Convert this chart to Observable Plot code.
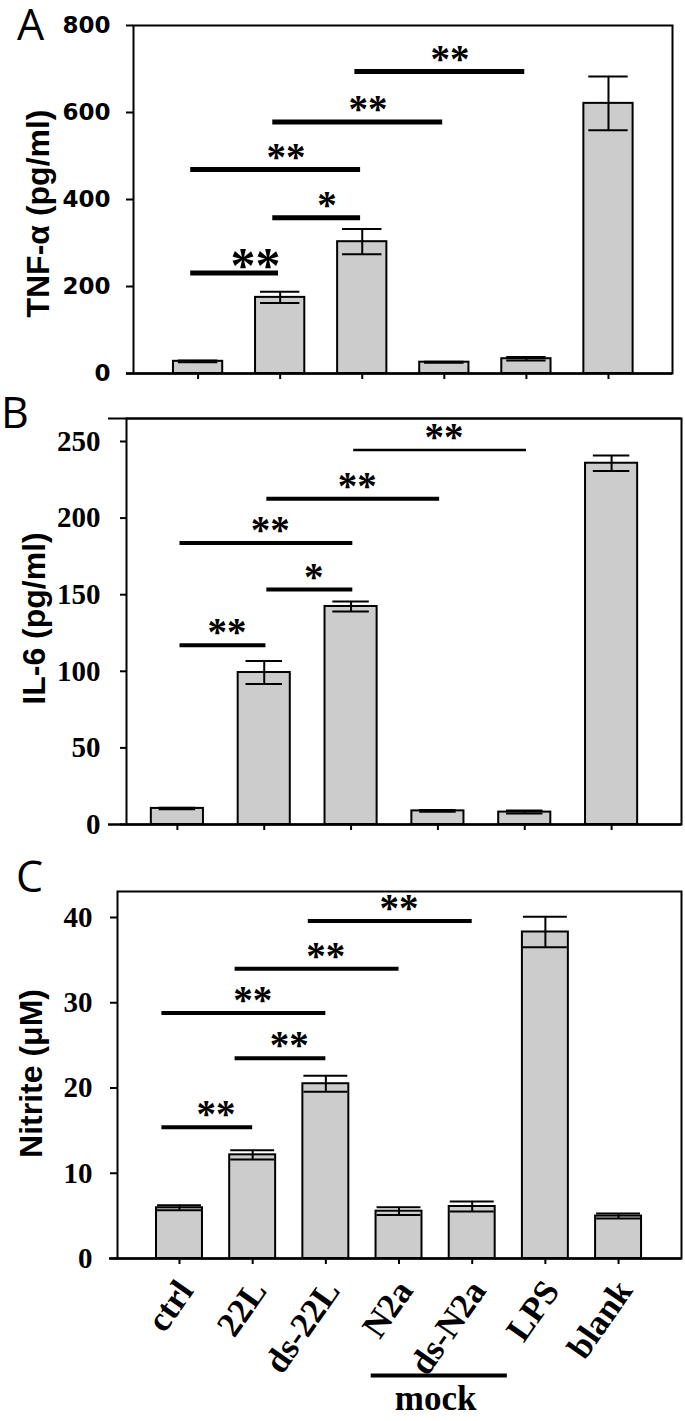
<!DOCTYPE html>
<html><head><meta charset="utf-8">
<script src="https://cdn.jsdelivr.net/npm/d3@7"></script>
<script src="https://cdn.jsdelivr.net/npm/@observablehq/plot@0.6"></script>
<style>
body{margin:0;background:#fff;}
#root{position:relative;width:685px;height:1421px;overflow:hidden;background:#fff;}
.panel{position:absolute;left:0;}
#letters{position:absolute;left:0;top:0;}
</style></head><body><div id="root"></div>
<script>
// ---- data ----
const catsAB = ["ctrl", "22L", "ds-22L", "N2a", "ds-N2a", "LPS"];
const catsC = ["ctrl", "22L", "ds-22L", "N2a", "ds-N2a", "LPS", "blank"];

const tnfMean = [28, 175, 303, 26, 34, 621];
const tnfErr = [2, 13, 29, 1, 4, 62];
const il6Mean = [10.5, 99.2, 142.3, 8.9, 8.1, 235.8];
const il6Err = [0.5, 7.5, 3.3, 0.6, 1, 5];
const nitMean = [5.95, 12.16, 20.5, 5.55, 6.1, 38.3, 4.98];
const nitErr = [0.3, 0.55, 0.95, 0.45, 0.6, 1.8, 0.3];

const tnfTicks = [0, 200, 400, 600, 800];
const il6Ticks = [0, 50, 100, 150, 200, 250];
const nitTicks = [0, 10, 20, 30, 40];

const sigPairs = [["ctrl", "22L"], ["22L", "ds-22L"], ["ctrl", "ds-22L"], ["22L", "N2a"], ["ds-22L", "ds-N2a"]];
const tnfSigY = [231, 358, 469, 578, 694];
const tnfSigLabel = ["**", "*", "**", "**", "**"];
const il6SigY = [117, 153.4, 183.7, 212.7, 244.5];
const il6SigLabel = ["**", "*", "**", "**", "**"];
const nitSigY = [15.4, 23.5, 28.8, 34.0, 39.6];
const nitSigLabel = ["**", "**", "**", "**", "**"];

const mockGroup = ["N2a", "ds-N2a"];
const mockLabel = "mock";

const titles = ["TNF-α (pg/ml)", "IL-6 (pg/ml)", "Nitrite (μM)"];
const panelLetters = ["A", "B", "C"];

// ---- drawing ----
const sans = "Liberation Sans, Arial, sans-serif";
const serif = "Liberation Serif, Times New Roman, serif";
const wideSans = "DejaVu Sans, sans-serif";

function panel(cfg) {
  const cats = cfg.cats;
  const idx = c => cats.indexOf(c);
  const bars = cats.map((c, i) => ({c, i, v: cfg.mean[i], e: cfg.err[i]}));
  const sig = sigPairs.map((p, k) => ({a: idx(p[0]), b: idx(p[1]), y: cfg.sigY[k], label: cfg.sigLabel[k], k}));
  const hw = cfg.barHalf, ch = cfg.capHalf;
  const marks = [
    Plot.rect(bars, {x1: d => d.i - hw, x2: d => d.i + hw, y1: 0, y2: "v", fill: "#cccccc", stroke: "black", strokeWidth: 2}),
    Plot.ruleX(bars, {x: "i", y1: d => d.v - d.e, y2: d => d.v + d.e, strokeWidth: 2}),
    Plot.ruleY(bars, {y: d => d.v + d.e, x1: d => d.i - ch, x2: d => d.i + ch, strokeWidth: 2}),
    Plot.ruleY(bars, {y: d => d.v - d.e, x1: d => d.i - ch, x2: d => d.i + ch, strokeWidth: 2}),
    Plot.ruleY(sig, {y: "y", x1: d => d.a + cfg.s0, x2: d => d.b + cfg.s1,
      strokeWidth: d => (cfg.thinLast && d.k === 4 ? 2.5 : cfg.sigW)}),
    Plot.text(sig.filter(d => !(cfg.bigFirst && d.k === 0)), {x: d => (d.a + d.b) / 2 + cfg.starShift, y: "y", text: "label",
      fontSize: 39, fontFamily: serif, fontWeight: "bold", lineAnchor: "middle", dy: -19 + 0.17 * 39}),
    Plot.frame({strokeWidth: 2}),
    Plot.ruleY([cfg.y[0]], {y: d => d, strokeWidth: 2.5, insetLeft: -cfg.extBottom}),
    Plot.axisY({ticks: cfg.ticks, tickSize: cfg.tickSize, tickPadding: cfg.tickPad, strokeWidth: 2,
      fontSize: cfg.yFont, fontFamily: cfg.yFamily, fontWeight: "bold", label: null, tickFormat: d => String(d)}),
    Plot.axisX({ticks: d3.range(cats.length), tickSize: 6, strokeWidth: 2, tickFormat: () => "", label: null}),
    Plot.text([cfg.title], {frameAnchor: "left", rotate: -90, textAnchor: "middle", lineAnchor: "middle",
      dx: cfg.titleX - cfg.ml, dy: cfg.titleDy, fontSize: 32, fontFamily: sans, fontWeight: "bold"})
  ];
  if (cfg.bigFirst) {
    marks.push(Plot.text(sig.filter(d => d.k === 0), {x: d => (d.a + d.b) / 2 + 0.2, y: "y", text: "label",
      fontSize: 50, fontFamily: serif, fontWeight: "bold", lineAnchor: "middle", dy: -15.7 + 0.17 * 50}));
  }
  if (cfg.extTop) {
    marks.push(Plot.ruleY([cfg.y[1]], {y: d => d, strokeWidth: 2, insetLeft: -cfg.extTop}));
  }
  if (cfg.xLabels) {
    marks.push(Plot.text(bars, {x: "i", y: 0, text: "c", rotate: -55, textAnchor: "end", lineAnchor: "middle",
      dx: 6, dy: 26, fontSize: 35, fontFamily: serif, fontWeight: "bold"}));
    const g0 = idx(mockGroup[0]), g1 = idx(mockGroup[mockGroup.length - 1]);
    marks.push(Plot.ruleY([0], {y: d => d, x1: g0 - 0.38, x2: g1 + 0.48, dy: 117, strokeWidth: 4}));
    marks.push(Plot.text([mockLabel], {x: (g0 + g1) / 2, y: 0, text: d => d, dy: 140, lineAnchor: "middle",
      fontSize: 35, fontFamily: serif, fontWeight: "bold"}));
  }
  const svg = Plot.plot({
    width: 685, height: cfg.height,
    marginTop: cfg.mt, marginBottom: cfg.mb, marginLeft: cfg.ml, marginRight: cfg.mr,
    style: {background: "transparent", overflow: "visible", color: "black"},
    x: {domain: cfg.x, axis: null},
    y: {domain: cfg.y, axis: null},
    marks
  });
  svg.classList.add("panel");
  svg.style.top = cfg.top + "px";
  return svg;
}

const root = document.getElementById("root");

root.appendChild(panel({
  cats: catsAB, mean: tnfMean, err: tnfErr, ticks: tnfTicks, sigY: tnfSigY, sigLabel: tnfSigLabel,
  title: titles[0], top: 0, height: 392, mt: 25, mb: 19, ml: 133, mr: 13,
  x: [-0.787, 5.78], y: [0, 800], barHalf: 0.30, capHalf: 0.24,
  s0: -0.09, s1: -0.02, starShift: 0.07, sigW: 5, bigFirst: true,
  tickSize: 7, tickPad: 16, yFont: 23, yFamily: wideSans, extBottom: 7,
  titleX: 37.8, titleDy: 14
}));

root.appendChild(panel({
  cats: catsAB, mean: il6Mean, err: il6Err, ticks: il6Ticks, sigY: il6SigY, sigLabel: il6SigLabel,
  title: titles[1], top: 390, height: 450, mt: 28, mb: 16, ml: 126, mr: 4,
  x: [-0.586, 5.805], y: [0, 265], barHalf: 0.30, capHalf: 0.21,
  s0: 0.03, s1: 0.02, starShift: 0.07, sigW: 4, thinLast: true,
  tickSize: 6, tickPad: 20, yFont: 29, yFamily: serif, extBottom: 18, extTop: 18,
  titleX: 33.8, titleDy: -3
}));

root.appendChild(panel({
  cats: catsC, mean: nitMean, err: nitErr, ticks: nitTicks, sigY: nitSigY, sigLabel: nitSigLabel,
  title: titles[2], top: 840, height: 581, mt: 51, mb: 163, ml: 117, mr: 4,
  x: [-0.847, 6.86], y: [0, 43.05], barHalf: 0.314, capHalf: 0.30,
  s0: -0.24, s1: 0, starShift: 0.0, sigW: 4, xLabels: true,
  tickSize: 7, tickPad: 18, yFont: 29, yFamily: serif, extBottom: 8,
  titleX: 31.3, titleDy: -1.5
}));

// panel letters
const ls = d3.select(root).append("svg").attr("id", "letters").attr("width", 685).attr("height", 1421);
const letterPos = [[17, 40], [1, 428], [16, 892]];
ls.selectAll("text").data(panelLetters).join("text")
  .attr("x", (d, i) => letterPos[i][0]).attr("y", (d, i) => letterPos[i][1])
  .attr("font-family", "Open Sans, sans-serif").attr("font-size", 43)
  .text(d => d);
</script></body></html>
